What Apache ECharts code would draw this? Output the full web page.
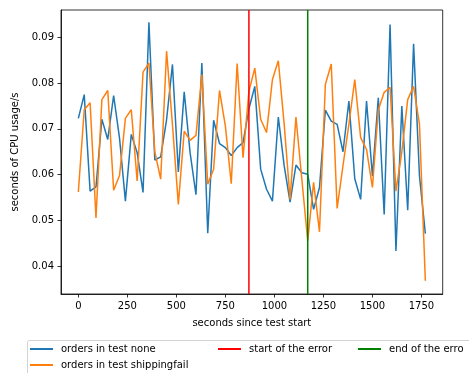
<!DOCTYPE html>
<html>
<head>
<meta charset="utf-8">
<script src="https://cdn.jsdelivr.net/npm/echarts@6/dist/echarts.min.js"></script>
<style>
  html, body { margin: 0; padding: 0; background: #fff; }
  #chart { width: 469px; height: 373px; }
</style>
</head>
<body>
<div id="chart"></div>
<script>
// sample times, seconds since test start
const seconds = [
  0, 30, 60, 90, 120, 150, 180, 210, 240, 270,
  300, 330, 360, 390, 420, 450, 480, 510, 540, 570,
  600, 630, 660, 690, 720, 750, 780, 810, 840, 870,
  900, 930, 960, 990, 1020, 1050, 1080, 1110, 1140, 1170,
  1200, 1230, 1260, 1290, 1320, 1350, 1380, 1410, 1440, 1470,
  1500, 1530, 1560, 1590, 1620, 1650, 1680, 1710, 1740, 1770
];

// CPU usage (seconds of CPU per second) for each run
const cpuNone = [
  0.0723, 0.0775, 0.0564, 0.0573, 0.0721, 0.0677, 0.0773, 0.0680, 0.0542, 0.0688,
  0.0648, 0.0561, 0.0933, 0.0632, 0.0639, 0.0720, 0.0841, 0.0606, 0.0781, 0.0648,
  0.0556, 0.0844, 0.0472, 0.0719, 0.0668, 0.0659, 0.0642, 0.0659, 0.0670, 0.0744,
  0.0793, 0.0612, 0.0568, 0.0542, 0.0726, 0.0619, 0.0540, 0.0621, 0.0604, 0.0601,
  0.0524, 0.0572, 0.0741, 0.0717, 0.0710, 0.0650, 0.0761, 0.0591, 0.0546, 0.0761,
  0.0597, 0.0768, 0.0513, 0.0928, 0.0433, 0.0750, 0.0522, 0.0886, 0.0597, 0.0471
];
const cpuShippingfail = [
  0.0562, 0.0742, 0.0757, 0.0505, 0.0764, 0.0784, 0.0566, 0.0598, 0.0723, 0.0742,
  0.0586, 0.0824, 0.0844, 0.0650, 0.0590, 0.0870, 0.0710, 0.0535, 0.0695, 0.0675,
  0.0686, 0.0819, 0.0579, 0.0612, 0.0784, 0.0706, 0.0580, 0.0843, 0.0637, 0.0782,
  0.0833, 0.0721, 0.0692, 0.0808, 0.0849, 0.0710, 0.0546, 0.0726, 0.0590, 0.0455,
  0.0583, 0.0475, 0.0797, 0.0842, 0.0526, 0.0620, 0.0710, 0.0808, 0.0681, 0.0655,
  0.0572, 0.0742, 0.0780, 0.0791, 0.0564, 0.0650, 0.0764, 0.0793, 0.0710, 0.0368
];

// error window
const errorStart = 870;
const errorEnd = 1170;

// axis ranges and ticks
const xMin = -88.5, xMax = 1858.5;
const yMin = 0.0339, yMax = 0.0960;
const xTicks = [0, 250, 500, 750, 1000, 1250, 1500, 1750];
const yTicks = [0.04, 0.05, 0.06, 0.07, 0.08, 0.09];

const seriesNames = ['orders in test none', 'orders in test shippingfail', 'start of the error', 'end of the error'];

const FONT = 'DejaVu Sans';
const pairs = (xs, ys) => xs.map((x, i) => [x, ys[i]]);

const chart = echarts.init(document.getElementById('chart'), null, { renderer: 'canvas' });

// one legend block per entry so the three-column layout can be placed exactly;
// textWidth trims an entry that runs past the right edge of the canvas
function legendAt(name, left, top, textWidth) {
  const textStyle = { fontFamily: FONT, fontSize: 10, color: '#000', lineHeight: 12, padding: [0, 0, 0, 3] };
  if (textWidth) {
    textStyle.width = textWidth;
    textStyle.overflow = 'truncate';
    textStyle.ellipsis = '';
  }
  return {
    data: [name],
    left: left,
    top: top,
    padding: 0,
    orient: 'vertical',
    icon: 'rect',
    itemWidth: 23,
    itemHeight: 2,
    selectedMode: false,
    textStyle: textStyle
  };
}

const axisCommon = {
  axisLine: { show: true, onZero: false, lineStyle: { color: '#000', width: 0.8 } },
  axisTick: { show: true, inside: false, length: 3.5, lineStyle: { color: '#000', width: 0.8 } },
  splitLine: { show: false },
  nameTextStyle: { fontFamily: FONT, fontSize: 10, color: '#000' }
};

chart.setOption({
  animation: false,
  backgroundColor: '#fff',
  grid: {
    left: 61, right: 26.3, top: 10, bottom: 79,
    show: true, borderColor: '#000', borderWidth: 0.8, backgroundColor: 'transparent'
  },
  graphic: [{
    type: 'rect',
    shape: { x: 27.5, y: 340.5, width: 470, height: 50, r: 2 },
    style: { fill: '#fff', stroke: '#d3d3d3', lineWidth: 1 },
    z: -1
  }],
  legend: [
    legendAt(seriesNames[0], 30, 343),
    legendAt(seriesNames[1], 30, 359),
    legendAt(seriesNames[2], 218, 343),
    legendAt(seriesNames[3], 358, 343, 76)
  ],
  xAxis: Object.assign({}, axisCommon, {
    type: 'value',
    min: xMin, max: xMax,
    name: 'seconds since test start',
    nameLocation: 'middle',
    nameGap: 24,
    axisTick: Object.assign({}, axisCommon.axisTick, { customValues: xTicks }),
    axisLabel: {
      customValues: xTicks, margin: 7,
      fontFamily: FONT, fontSize: 10, color: '#000',
      formatter: v => String(v)
    }
  }),
  yAxis: Object.assign({}, axisCommon, {
    type: 'value',
    min: yMin, max: yMax,
    name: 'seconds of CPU usage/s',
    nameLocation: 'middle',
    nameRotate: 90,
    nameGap: 40,
    axisTick: Object.assign({}, axisCommon.axisTick, { customValues: yTicks }),
    axisLabel: {
      customValues: yTicks, margin: 7,
      fontFamily: FONT, fontSize: 10, color: '#000',
      formatter: v => v.toFixed(2)
    }
  }),
  series: [
    {
      name: seriesNames[0], type: 'line', data: pairs(seconds, cpuNone),
      showSymbol: false, symbol: 'none', clip: true,
      lineStyle: { color: '#1f77b4', width: 1.5 }, itemStyle: { color: '#1f77b4' }, z: 2
    },
    {
      name: seriesNames[1], type: 'line', data: pairs(seconds, cpuShippingfail),
      showSymbol: false, symbol: 'none', clip: true,
      lineStyle: { color: '#ff7f0e', width: 1.5 }, itemStyle: { color: '#ff7f0e' }, z: 3
    },
    {
      name: seriesNames[2], type: 'line', data: [[errorStart, yMin], [errorStart, yMax]],
      showSymbol: false, symbol: 'none', clip: true,
      lineStyle: { color: '#ff0000', width: 1.5 }, itemStyle: { color: '#ff0000' }, z: 4
    },
    {
      name: seriesNames[3], type: 'line', data: [[errorEnd, yMin], [errorEnd, yMax]],
      showSymbol: false, symbol: 'none', clip: true,
      lineStyle: { color: '#008000', width: 1.5 }, itemStyle: { color: '#008000' }, z: 5
    }
  ]
});
</script>
</body>
</html>
